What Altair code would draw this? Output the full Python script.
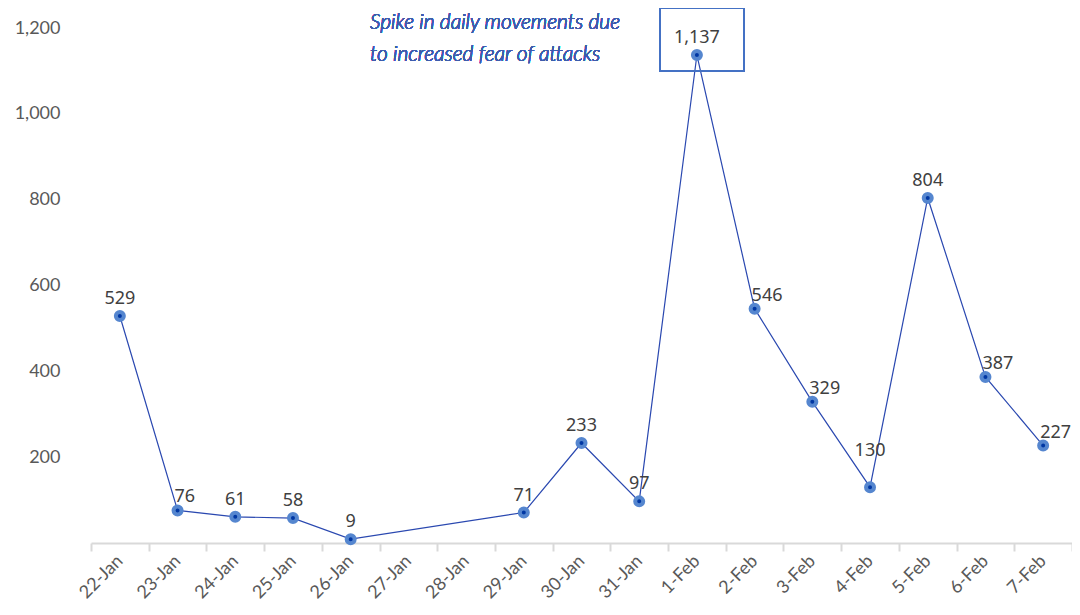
import altair as alt
import pandas as pd

categories = ["22-Jan", "23-Jan", "24-Jan", "25-Jan", "26-Jan", "27-Jan", "28-Jan",
              "29-Jan", "30-Jan", "31-Jan", "1-Feb", "2-Feb", "3-Feb", "4-Feb",
              "5-Feb", "6-Feb", "7-Feb"]
values = [529, 76, 61, 58, 9, None, None, 71, 233, 97, 1137, 546, 329, 130, 804, 387, 227]
y_ticks = [200, 400, 600, 800, 1000, 1200]
labels_upper_right = ["23-Jan", "2-Feb", "3-Feb", "6-Feb", "7-Feb"]
labels_high = ["4-Feb"]
note_lines = ["Spike in daily movements due", "to increased fear of attacks"]

df = pd.DataFrame({"day": categories, "value": values})
df["place"] = [
    "ur" if d in labels_upper_right else ("high" if d in labels_high else "above")
    for d in categories
]

W, H = 981, 515
LINE_BLUE = "#2a48b0"
AXIS_GREY = "#595959"
NOTE_BLUE = "#3d5cad"

x_enc = alt.X(
    "day:N",
    sort=categories,
    scale=alt.Scale(type="band", domain=categories, paddingInner=0, paddingOuter=0),
    bandPosition=0.5,
    axis=alt.Axis(
        title=None,
        tickBand="extent",
        labelAngle=-45,
        labelAlign="right",
        labelBaseline="middle",
        labelPadding=7,
        labelFont="Lato",
        labelFontSize=18,
        labelColor=AXIS_GREY,
        domainColor="#d9d9d9",
        domainWidth=2,
        tickColor="#d9d9d9",
        tickWidth=2,
        tickSize=8,
        grid=False,
    ),
)
y_enc = alt.Y(
    "value:Q",
    scale=alt.Scale(domain=[0, 1200], nice=False),
    axis=alt.Axis(
        title=None,
        values=y_ticks,
        format=",.0f",
        domain=False,
        ticks=False,
        grid=False,
        labelPadding=31,
        labelFont="Lato",
        labelFontSize=18,
        labelColor=AXIS_GREY,
    ),
)

base = alt.Chart(df).transform_filter("isValid(datum.value)")

line = base.mark_line(color=LINE_BLUE, strokeWidth=1.2).encode(x=x_enc, y=y_enc)
points = base.mark_point(
    shape="circle", filled=True, size=64, fill="#0037a3", stroke="#5586cf",
    strokeWidth=4, opacity=1
).encode(x=x_enc, y=y_enc)

txt_style = dict(font="Noto Sans", fontSize=18, color="#404040")
lab_above = base.transform_filter("datum.place == 'above'").mark_text(
    align="center", baseline="alphabetic", dy=-12, **txt_style
).encode(x=x_enc, y=y_enc, text=alt.Text("value:Q", format=","))
lab_ur = base.transform_filter("datum.place == 'ur'").mark_text(
    align="left", baseline="alphabetic", dx=-3, dy=-8, **txt_style
).encode(x=x_enc, y=y_enc, text=alt.Text("value:Q", format=","))
lab_high = base.transform_filter("datum.place == 'high'").mark_text(
    align="center", baseline="alphabetic", dy=-31, **txt_style
).encode(x=x_enc, y=y_enc, text=alt.Text("value:Q", format=","))

note_style = dict(align="left", baseline="alphabetic", font="Lato", fontStyle="italic",
                  fontWeight=300, fontSize=21, color=NOTE_BLUE)
note1 = alt.Chart(df).mark_text(**note_style).encode(
    x=alt.value(279), y=alt.value(1), text=alt.value(note_lines[0]))
note2 = alt.Chart(df).mark_text(**note_style).encode(
    x=alt.value(279), y=alt.value(33), text=alt.value(note_lines[1]))

box = alt.Chart(df).mark_rect(
    fill="white", fillOpacity=0, stroke="#4472c4", strokeWidth=1.5
).encode(x=alt.value(569), x2=alt.value(653), y=alt.value(-20), y2=alt.value(43))

chart = alt.layer(line, points, lab_above, lab_ur, lab_high, note1, note2, box).properties(
    width=W,
    height=H,
    background="white",
    autosize=alt.AutoSizeParams(type="none"),
    padding={"left": 83, "top": 20, "right": 0, "bottom": 63},
).configure_view(strokeWidth=0, stroke=None)

chart.save("out.html", embed_options={"renderer": "svg", "actions": False})
